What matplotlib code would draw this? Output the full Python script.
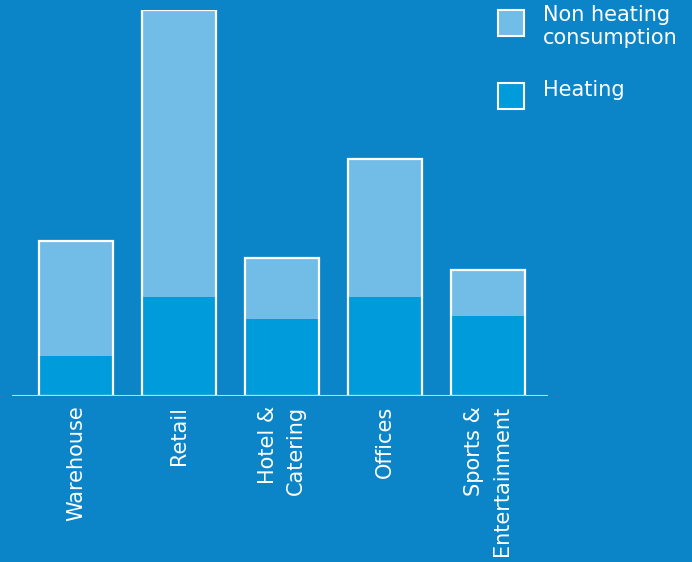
import matplotlib.pyplot as plt
from matplotlib.patches import Rectangle

# ----
# Data
# ----
categories = ["Warehouse", "Retail", "Hotel &\nCatering", "Offices",
              "Sports &\nEntertainment"]
heating = [40, 99, 77, 99, 80]
non_heating = [115, 287, 61, 138, 46]
legend_labels = ["Non heating\nconsumption", "Heating"]

BG = "#0C85C8"
LIGHT = "#72BCE8"
HEAT = "#009BDB"

fig = plt.figure(figsize=(6.92, 5.62), dpi=100, facecolor=BG)
ax = fig.add_axes([12 / 692, 166 / 562, 536 / 692, 386 / 562])
ax.set_facecolor(BG)

x = range(len(categories))
totals = [h + n for h, n in zip(heating, non_heating)]
ax.bar(x, heating, width=0.72, color=HEAT, linewidth=0)
ax.bar(x, non_heating, bottom=heating, width=0.72, color=LIGHT, linewidth=0)
# white outline around each whole stack
ax.bar(x, totals, width=0.72, fill=False, edgecolor="white", linewidth=1.6)

ax.set_xlim(-0.62, 4.58)
ax.set_ylim(0, 386)
ax.axhline(0, color="#B4DAF0", linewidth=1.5)
for s in ax.spines.values():
    s.set_visible(False)
ax.set_yticks([])
ax.set_xticks(list(x))
# rotated labels: lines line up at the top (text end)
ax.set_xticklabels(categories, rotation=90, color="white", fontsize=15,
                   va="top", ha="center", multialignment="right",
                   linespacing=1.5)
ax.tick_params(axis="x", length=0, pad=7)

# legend drawn by hand
for i, (lab, col) in enumerate(zip(legend_labels, [LIGHT, HEAT])):
    y0 = 1 - (36 + i * 73) / 562
    fig.patches.append(Rectangle((498 / 692, y0), 26 / 692, 26 / 562,
                                 transform=fig.transFigure, facecolor=col,
                                 edgecolor="white", linewidth=1.5))
    fig.text(543 / 692, 1 - (5 + i * 75) / 562, lab, color="white",
             fontsize=15, va="top", ha="left", linespacing=1.2)

fig.savefig("out.png", dpi=100, facecolor=BG)
